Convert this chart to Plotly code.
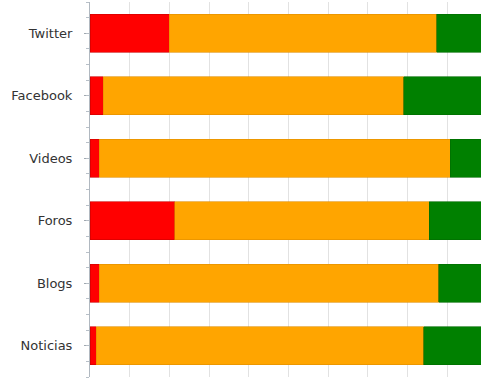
import plotly.graph_objects as go

categories = ["Twitter", "Facebook", "Videos", "Foros", "Blogs", "Noticias"]
red_vals = [20.0, 3.3, 2.3, 21.4, 2.3, 1.6]
orange_vals = [67.4, 75.8, 88.4, 64.0, 85.6, 82.5]
green_vals = [12.6, 20.9, 9.3, 14.6, 12.1, 15.9]

series = [
    ("Negativo", red_vals, "#ff0000", "#cc0000"),
    ("Neutro", orange_vals, "#ffa500", "#e08e00"),
    ("Positivo", green_vals, "#008000", "#006a00"),
]

fig = go.Figure()
for name, vals, col, edge in series:
    fig.add_trace(go.Bar(
        y=categories, x=vals, name=name, orientation="h",
        marker=dict(color=col, line=dict(color=edge, width=0.6)),
        showlegend=False,
    ))

# invisible trace to carry the minor-tick overlay axis
n = len(categories)
fig.add_trace(go.Scatter(x=[0], y=[0], yaxis="y2", mode="markers",
                         marker=dict(opacity=0), showlegend=False, hoverinfo="skip"))

fig.update_layout(
    width=481, height=381,
    margin=dict(l=90, r=0, t=2, b=4),
    barmode="stack",
    bargap=0.39,
    plot_bgcolor="white",
    paper_bgcolor="white",
    font=dict(family="DejaVu Sans", size=13, color="#333333"),
    xaxis=dict(range=[0, 98.5], dtick=10, showgrid=True, gridcolor="#e2e2e2",
               gridwidth=1, showticklabels=False, zeroline=False, ticks=""),
    yaxis=dict(categoryorder="array", categoryarray=categories[::-1],
               range=[-0.5, n - 0.5],
               showline=True, linecolor="#b0b8c0", linewidth=1,
               ticks="outside", ticklen=5, tickcolor="#a0a8b0",
               ticklabelstandoff=9, showgrid=False),
    yaxis2=dict(overlaying="y", side="left", range=[-0.5, n - 0.5],
                tickvals=[i * 0.25 - 0.5 for i in range(4 * n + 1)],
                showticklabels=False, ticks="outside", ticklen=3,
                tickcolor="#b8c0c8", showgrid=False, zeroline=False,
                showline=False),
)

fig.write_html("out.html",
               config={"displayModeBar": False},
               post_script="document.body.style.margin='0';document.body.style.overflow='hidden';")
